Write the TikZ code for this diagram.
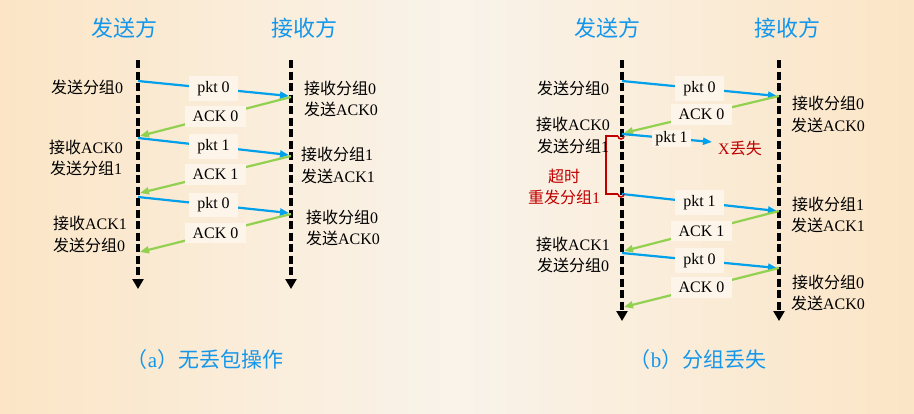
\documentclass[tikz,border=0pt]{standalone}
\usepackage{fontspec}
\setmainfont{Liberation Serif}
\newfontfamily\cjk{Noto Sans CJK SC}
\usetikzlibrary{arrows.meta}
\definecolor{bgedge}{HTML}{FBE5C6}
\definecolor{bgmid}{HTML}{F9F3EA}
\definecolor{tblue}{RGB}{20,150,235}
\definecolor{ablue}{RGB}{0,160,235}
\definecolor{agreen}{RGB}{146,208,80}
\definecolor{lred}{RGB}{192,0,0}
\definecolor{boxfill}{HTML}{FDF5E9}
\newcommand{\zh}[1]{{\cjk #1}}
\begin{document}
\begin{tikzpicture}[x=1pt,y=-1pt,
  every node/.style={font=\fontsize{16}{18}\selectfont},
  timeline/.style={line width=3.4pt, dash pattern=on 8pt off 3.5pt, -{Triangle[width=11pt,length=10pt]}},
  pktline/.style={ablue, line width=2.2pt, -{Triangle[width=7pt,length=9pt]}},
  ackline/.style={agreen, line width=2.2pt, -{Triangle[width=7pt,length=9pt]}},
  lbl/.style={fill=boxfill, inner xsep=8pt, inner ysep=5pt, text=black},
  side/.style={text=black},
  head/.style={text=tblue, font=\cjk\fontsize{22}{24}\selectfont},
  captxt/.style={text=tblue, font=\fontsize{21}{24}\selectfont},
  lostc/.style={text=lred},
  brk/.style={lred, line width=2pt}
]
\useasboundingbox (0,0) rectangle (914,413);
\shade[left color=bgedge, right color=bgedge, middle color=bgmid] (0,0) rectangle (914,413);

% headers
\node[head] (hA1) at (124,28) {发送方};
\node[head] (hA2) at (304,28) {接收方};
\node[head] (hB1) at (607,28) {发送方};
\node[head] (hB2) at (787,28) {接收方};

% timelines
\coordinate (aSt) at (138,60); \coordinate (aSb) at (138,289);
\coordinate (aRt) at (291,60); \coordinate (aRb) at (291,289);
\coordinate (bSt) at (622,60); \coordinate (bSb) at (622,321);
\coordinate (bRt) at (779,60); \coordinate (bRb) at (779,321);
\draw[timeline] (aSt) -- (aSb);
\draw[timeline] (aRt) -- (aRb);
\draw[timeline] (bSt) -- (bSb);
\draw[timeline] (bRt) -- (bRb);

% ---------- (a) ----------
\coordinate (a1s) at (138,81);  \coordinate (a1e) at (289,96);
\coordinate (a2s) at (291,97);  \coordinate (a2e) at (140,136);
\coordinate (a3s) at (138,138); \coordinate (a3e) at (289,155);
\coordinate (a4s) at (291,156); \coordinate (a4e) at (140,193);
\coordinate (a5s) at (138,197); \coordinate (a5e) at (289,213);
\coordinate (a6s) at (291,214); \coordinate (a6e) at (140,252);
\draw[pktline] (a1s) -- node[lbl] (al1) {pkt 0} (a1e);
\draw[ackline] (a2s) -- node[lbl] (al2) {ACK 0} (a2e);
\draw[pktline] (a3s) -- node[lbl] (al3) {pkt 1} (a3e);
\draw[ackline] (a4s) -- node[lbl] (al4) {ACK 1} (a4e);
\draw[pktline] (a5s) -- node[lbl] (al5) {pkt 0} (a5e);
\draw[ackline] (a6s) -- node[lbl] (al6) {ACK 0} (a6e);

\node[side] (at1) at (87,87)  {\zh{发送分组}0};
\node[side] (at2) at (86,147) {\zh{接收}ACK0};
\node[side] (at3) at (86,168) {\zh{发送分组}1};
\node[side] (at4) at (90,223) {\zh{接收}ACK1};
\node[side] (at5) at (89,245) {\zh{发送分组}0};
\node[side] (ar1) at (340,88)  {\zh{接收分组}0};
\node[side] (ar2) at (341,109) {\zh{发送}ACK0};
\node[side] (ar3) at (337,154) {\zh{接收分组}1};
\node[side] (ar4) at (338,176) {\zh{发送}ACK1};
\node[side] (ar5) at (342,217) {\zh{接收分组}0};
\node[side] (ar6) at (343,238) {\zh{发送}ACK0};

% ---------- (b) ----------
\coordinate (b1s) at (622,81);  \coordinate (b1e) at (777,96);
\coordinate (b2s) at (779,96);  \coordinate (b2e) at (624,133);
\coordinate (b3s) at (622,134); \coordinate (b3e) at (712,142);
\coordinate (b4s) at (622,194); \coordinate (b4e) at (777,211);
\coordinate (b5s) at (779,211); \coordinate (b5e) at (624,251);
\coordinate (b6s) at (622,253); \coordinate (b6e) at (777,268);
\coordinate (b7s) at (779,268); \coordinate (b7e) at (624,307);
\draw[pktline] (b1s) -- node[lbl] (bl1) {pkt 0} (b1e);
\draw[ackline] (b2s) -- node[lbl] (bl2) {ACK 0} (b2e);
\draw[pktline] (b3s) -- node[pos=0.55, fill=boxfill, text=black, inner xsep=3pt, inner ysep=1pt] (bl3) {pkt 1} (b3e);
\draw[pktline] (b4s) -- node[lbl] (bl4) {pkt 1} (b4e);
\draw[ackline] (b5s) -- node[lbl] (bl5) {ACK 1} (b5e);
\draw[pktline] (b6s) -- node[lbl] (bl6) {pkt 0} (b6e);
\draw[ackline] (b7s) -- node[lbl] (bl7) {ACK 0} (b7e);

\node[lostc] (lost) at (740,148) {X\zh{丢失}};

% timeout bracket
\coordinate (k1) at (606,136);
\coordinate (k2) at (606,194);
\draw[brk] (618,136) -- (k1) -- (k2) -- (618,194);
\draw[brk, line width=1.5pt] (618,136) arc (180:0:3);
\draw[brk, line width=1.5pt] (618,194) arc (180:0:3);
\node[lostc] (to1) at (564,176) {\zh{超时}};
\node[lostc] (to2) at (564,197) {\zh{重发分组}1};

\node[side] (bt1) at (573,88)  {\zh{发送分组}0};
\node[side] (bt2) at (573,124) {\zh{接收}ACK0};
\node[side] (bt3) at (573,146) {\zh{发送分组}1};
\node[side] (bt4) at (573,244) {\zh{接收}ACK1};
\node[side] (bt5) at (573,265) {\zh{发送分组}0};
\node[side] (br1) at (828,103) {\zh{接收分组}0};
\node[side] (br2) at (828,125) {\zh{发送}ACK0};
\node[side] (br3) at (828,204) {\zh{接收分组}1};
\node[side] (br4) at (828,225) {\zh{发送}ACK1};
\node[side] (br5) at (828,282) {\zh{接收分组}0};
\node[side] (br6) at (828,303) {\zh{发送}ACK0};

% captions
\node[captxt] (capA) at (205,360) {\zh{（}a\zh{）无丢包操作}};
\node[captxt] (capB) at (698,360) {\zh{（}b\zh{）分组丢失}};
\end{tikzpicture}
\end{document}
